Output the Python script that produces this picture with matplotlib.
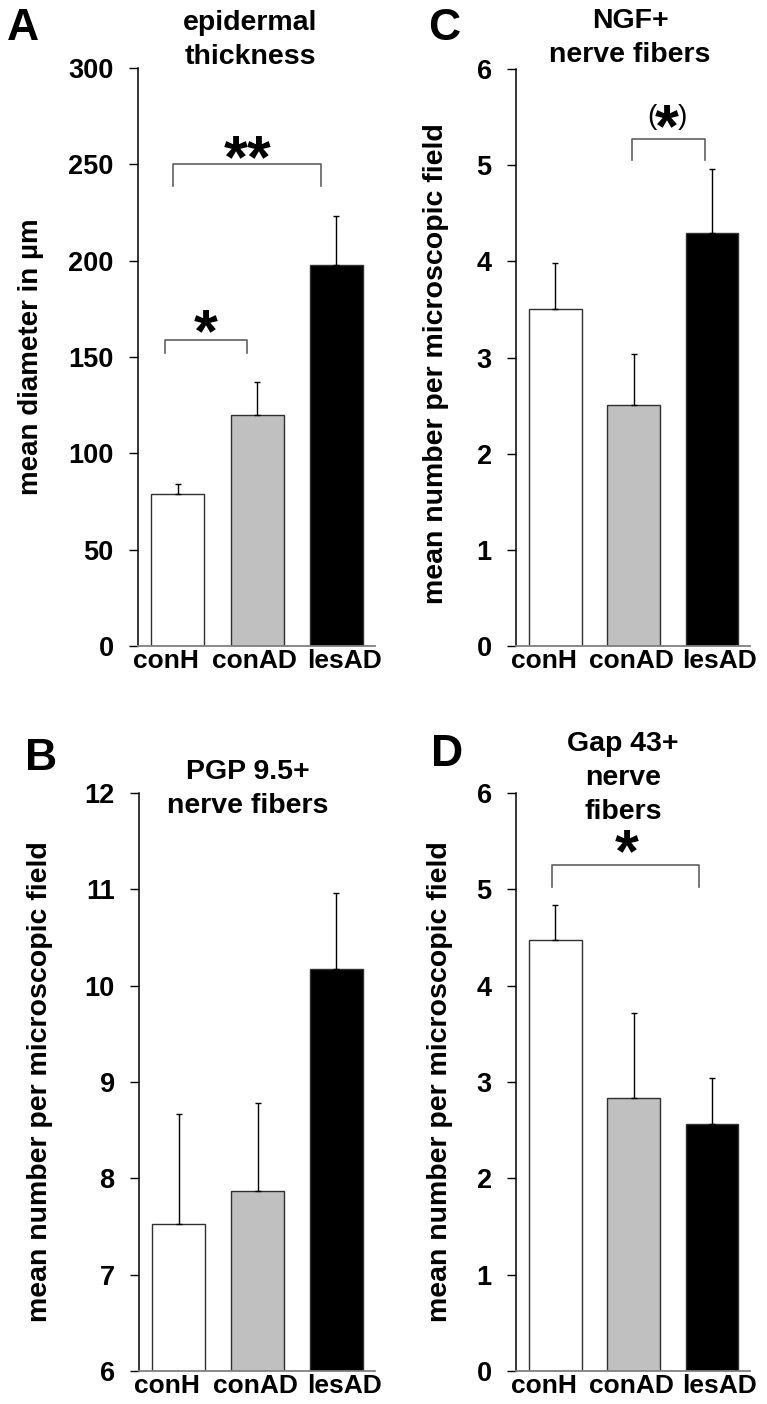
import matplotlib

matplotlib.use("Agg")
import matplotlib.pyplot as plt

W_PX, H_PX = 767, 1404

groups = ["conH", "conAD", "lesAD"]
bar_colors = ["white", "#c0c0c0", "black"]
# labels sit a bit wider apart than the bars in the original
label_pos = [-0.15, 0.97, 2.1]

# panel A: epidermal thickness
a_means = [79, 120, 198]
a_err = [5, 17, 25]
a_ticks = [0, 50, 100, 150, 200, 250, 300]

# panel B: PGP 9.5+
b_means = [7.53, 7.87, 10.17]
b_err = [1.14, 0.91, 0.79]
b_ticks = [6, 7, 8, 9, 10, 11, 12]

# panel C: NGF+
c_means = [3.50, 2.51, 4.29]
c_err = [0.48, 0.53, 0.67]
c_ticks = [0, 1, 2, 3, 4, 5, 6]

# panel D: Gap 43+
d_means = [4.47, 2.83, 2.56]
d_err = [0.37, 0.89, 0.48]
d_ticks = [0, 1, 2, 3, 4, 5, 6]

FONT = "Liberation Sans"
STAR_SIZE = 44


def px_rect(left, top, right, bottom):
    return [left / W_PX, 1 - bottom / H_PX, (right - left) / W_PX, (bottom - top) / H_PX]


def fig_text(fig, x, y, s, **kw):
    fig.text(x / W_PX, 1 - y / H_PX, s, family=FONT, fontweight="bold", **kw)


def bracket(ax, x1, x2, y_top, y_foot, label, label_y, label_x=None):
    ax.plot([x1, x1, x2, x2], [y_foot, y_top, y_top, y_foot], color="#606060", lw=1.2, clip_on=False)
    if label_x is None:
        label_x = (x1 + x2) / 2
    ax.text(label_x, label_y, label, ha="center", va="center", fontsize=STAR_SIZE,
            family=FONT, fontweight="bold", clip_on=False)


def bar_panel(fig, rect, means, err, ticks):
    ax = fig.add_axes(rect)
    xs = range(len(groups))
    ax.bar(xs, means, width=0.67, color=bar_colors, edgecolor="#303030", linewidth=1.0, zorder=2)
    ax.errorbar(xs, means, yerr=[[0] * len(err), err], fmt="none", ecolor="black",
                elinewidth=1.0, capsize=2.5, capthick=1.0, zorder=3)
    ax.set_xlim(-0.505, 2.49)
    ax.set_ylim(ticks[0], ticks[-1])
    ax.set_yticks(ticks)
    ax.set_xticks(label_pos)
    ax.set_xticklabels(groups)
    for s in ("top", "right"):
        ax.spines[s].set_visible(False)
    ax.spines["left"].set_color("black")
    ax.spines["left"].set_linewidth(1.1)
    ax.spines["bottom"].set_color("#808080")
    ax.spines["bottom"].set_linewidth(1.3)
    ax.tick_params(axis="y", direction="out", length=6.5, width=1.0, pad=11, labelsize=19.5)
    ax.tick_params(axis="x", length=0, pad=2, labelsize=19)
    for lab in ax.get_xticklabels() + ax.get_yticklabels():
        lab.set_family(FONT)
        lab.set_fontweight("bold")
    return ax


def main():
    fig = plt.figure(figsize=(W_PX / 100, H_PX / 100), dpi=100)

    ax_a = bar_panel(fig, px_rect(138, 68, 375, 646), a_means, a_err, a_ticks)
    ax_c = bar_panel(fig, px_rect(516, 69, 750, 646), c_means, c_err, c_ticks)
    ax_b = bar_panel(fig, px_rect(139, 793, 375, 1371), b_means, b_err, b_ticks)
    ax_d = bar_panel(fig, px_rect(516, 793, 750, 1371), d_means, d_err, d_ticks)

    # significance brackets
    bracket(ax_a, -0.06, 1.81, 250, 239, "**", 251.5)
    bracket(ax_a, -0.16, 0.87, 159, 152, "*", 161)
    bracket(ax_c, 0.98, 1.92, 5.27, 5.05, "*", 5.36, label_x=1.43)
    ax_c.text(1.23, 5.5, "(", ha="center", va="center", fontsize=20, family=FONT)
    ax_c.text(1.63, 5.5, ")", ha="center", va="center", fontsize=20, family=FONT)
    bracket(ax_d, -0.04, 1.84, 5.25, 5.02, "*", 5.35, label_x=0.91)

    # y labels
    ylab = "mean number per microscopic field"
    fig_text(fig, 31, 357, "mean diameter in \u00b5m", rotation=90, ha="center", va="center", fontsize=20)
    fig_text(fig, 436, 364, ylab, rotation=90, ha="center", va="center", fontsize=20.5)
    fig_text(fig, 40, 1082, ylab, rotation=90, ha="center", va="center", fontsize=20.5)
    fig_text(fig, 440, 1082, ylab, rotation=90, ha="center", va="center", fontsize=20.5)

    # titles
    fig_text(fig, 250, 40, "epidermal\nthickness", ha="center", va="center", fontsize=20.5, linespacing=1.4)
    fig_text(fig, 630, 38, "NGF+\nnerve fibers", ha="center", va="center", fontsize=20.5, linespacing=1.4)
    fig_text(fig, 248, 789, "PGP 9.5+\nnerve fibers", ha="center", va="center", fontsize=20.5, linespacing=1.4)
    fig_text(fig, 623, 778, "Gap 43+\nnerve\nfibers", ha="center", va="center", fontsize=20.5, linespacing=1.4)

    # panel letters
    fig_text(fig, 7, 28, "A", ha="left", va="center", fontsize=32)
    fig_text(fig, 428, 28, "C", ha="left", va="center", fontsize=32)
    fig_text(fig, 25, 759, "B", ha="left", va="center", fontsize=32)
    fig_text(fig, 431, 755, "D", ha="left", va="center", fontsize=32)

    fig.savefig("out.png", dpi=100)
    plt.close(fig)


if __name__ == "__main__":
    main()
